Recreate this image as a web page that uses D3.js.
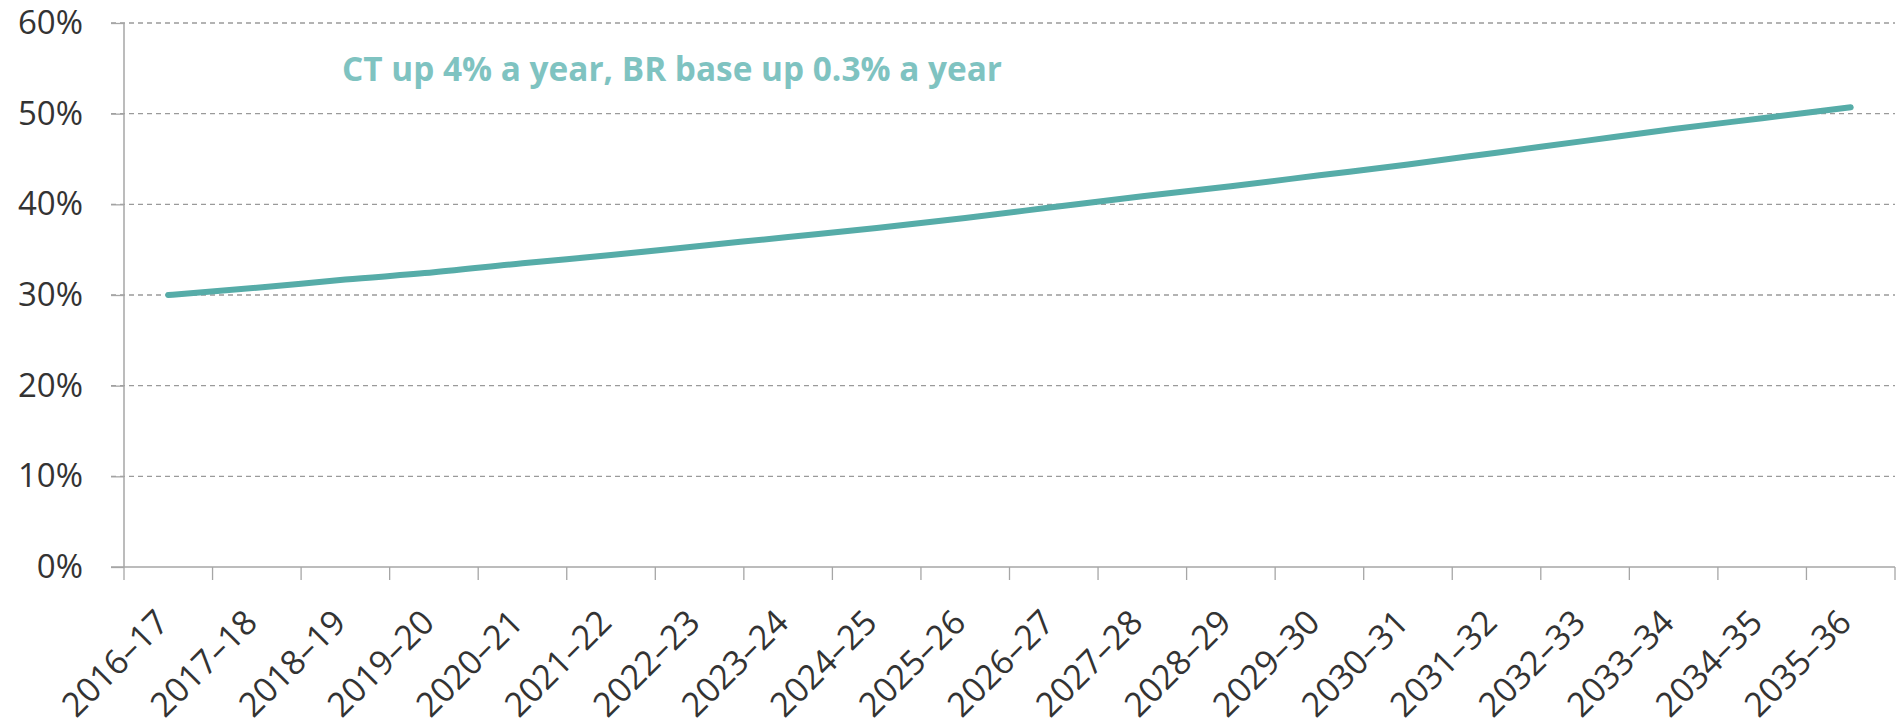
<!DOCTYPE html>
<html>
<head>
<meta charset="utf-8">
<script src="https://cdn.jsdelivr.net/npm/d3@7"></script>
<style>
  body { margin: 0; background: #fff; }
  svg text { font-family: "Open Sans", sans-serif; }
</style>
</head>
<body>
<svg id="chart"></svg>
<script>
const years = ['2016–17', '2017–18', '2018–19', '2019–20', '2020–21', '2021–22', '2022–23',
  '2023–24', '2024–25', '2025–26', '2026–27', '2027–28', '2028–29', '2029–30', '2030–31',
  '2031–32', '2032–33', '2033–34', '2034–35', '2035–36'];
const share = [30.0, 30.8, 31.7, 32.5, 33.5, 34.4, 35.4, 36.4, 37.4, 38.5,
  39.7, 40.9, 42.0, 43.2, 44.4, 45.7, 47.0, 48.3, 49.5, 50.7];
const yTicks = [0, 10, 20, 30, 40, 50, 60];
const title = 'CT up 4% a year, BR base up 0.3% a year';

draw_chart();

function draw_chart() {
    /* Set the dimensions for the graph. */
    const margin = {top: 23, right: 1, bottom: 161, left: 124};
    const W = 1896, H = 728;
    const width = W - margin.left - margin.right;
    const height = H - margin.top - margin.bottom;

    const svg = d3.select('#chart')
        .attr('width', W)
        .attr('height', H);

    const g = svg.append('g')
        .attr('transform', 'translate(' + margin.left + ',' + margin.top + ')');

    const x = d3.scaleBand()
        .domain(years)
        .range([0, width]);

    const y = d3.scaleLinear()
        .domain([0, 60])
        .range([height, 0]);

    /* dashed gridlines */
    g.append('g')
        .selectAll('line')
        .data(yTicks.filter(d => d > 0))
        .enter().append('line')
        .attr('x1', -13)
        .attr('x2', width)
        .attr('y1', d => y(d))
        .attr('y2', d => y(d))
        .attr('stroke', '#9a9a9a')
        .attr('stroke-width', 1.3)
        .attr('stroke-dasharray', '5,4');

    /* y axis */
    const yAxis = g.append('g')
        .call(d3.axisLeft(y).tickValues(yTicks).tickSize(13).tickPadding(28).tickFormat(d => d + '%'));
    yAxis.select('.domain').attr('stroke', '#a6a6a6').attr('stroke-width', 1.5).attr('d', 'M0,' + height + 'V0');
    yAxis.selectAll('.tick line').attr('stroke', '#a6a6a6').attr('stroke-width', 1.3);
    yAxis.selectAll('.tick text')
        .attr('fill', '#333')
        .style('font-size', '33px');

    /* x axis with ticks on band edges */
    const xAxis = g.append('g')
        .attr('transform', 'translate(0,' + height + ')')
        .call(d3.axisBottom(x).tickSize(0).tickPadding(0));
    xAxis.select('.domain').attr('stroke', '#a6a6a6').attr('stroke-width', 1.5).attr('d', 'M-13,0H' + width);
    xAxis.selectAll('.tick text')
        .attr('fill', '#333')
        .style('font-size', '34px')
        .attr('text-anchor', 'end')
        .attr('transform', 'translate(-6,49) rotate(-45)')
        .attr('dy', '0.35em')
        .attr('y', 0);

    xAxis.append('g')
        .selectAll('line')
        .data(years.concat(['end']))
        .enter().append('line')
        .attr('x1', (d, i) => i * x.step())
        .attr('x2', (d, i) => i * x.step())
        .attr('y1', 0)
        .attr('y2', 13)
        .attr('stroke', '#a6a6a6')
        .attr('stroke-width', 1.3);

    /* the line */
    const line = d3.line()
        .x((d, i) => x(years[i]) + x.bandwidth() / 2)
        .y(d => y(d))
        .curve(d3.curveMonotoneX);

    g.append('path')
        .datum(share)
        .attr('fill', 'none')
        .attr('stroke', '#56aca8')
        .attr('stroke-width', 6)
        .attr('stroke-linecap', 'round')
        .attr('d', line);

    /* label */
    g.append('text')
        .attr('x', 342 - margin.left)
        .attr('y', 81 - margin.top)
        .attr('fill', '#7fc3c1')
        .style('font-size', '34px')
        .style('font-weight', 'bold')
        .attr('textLength', 660)
        .attr('lengthAdjust', 'spacingAndGlyphs')
        .text(title);
}
</script>
</body>
</html>
